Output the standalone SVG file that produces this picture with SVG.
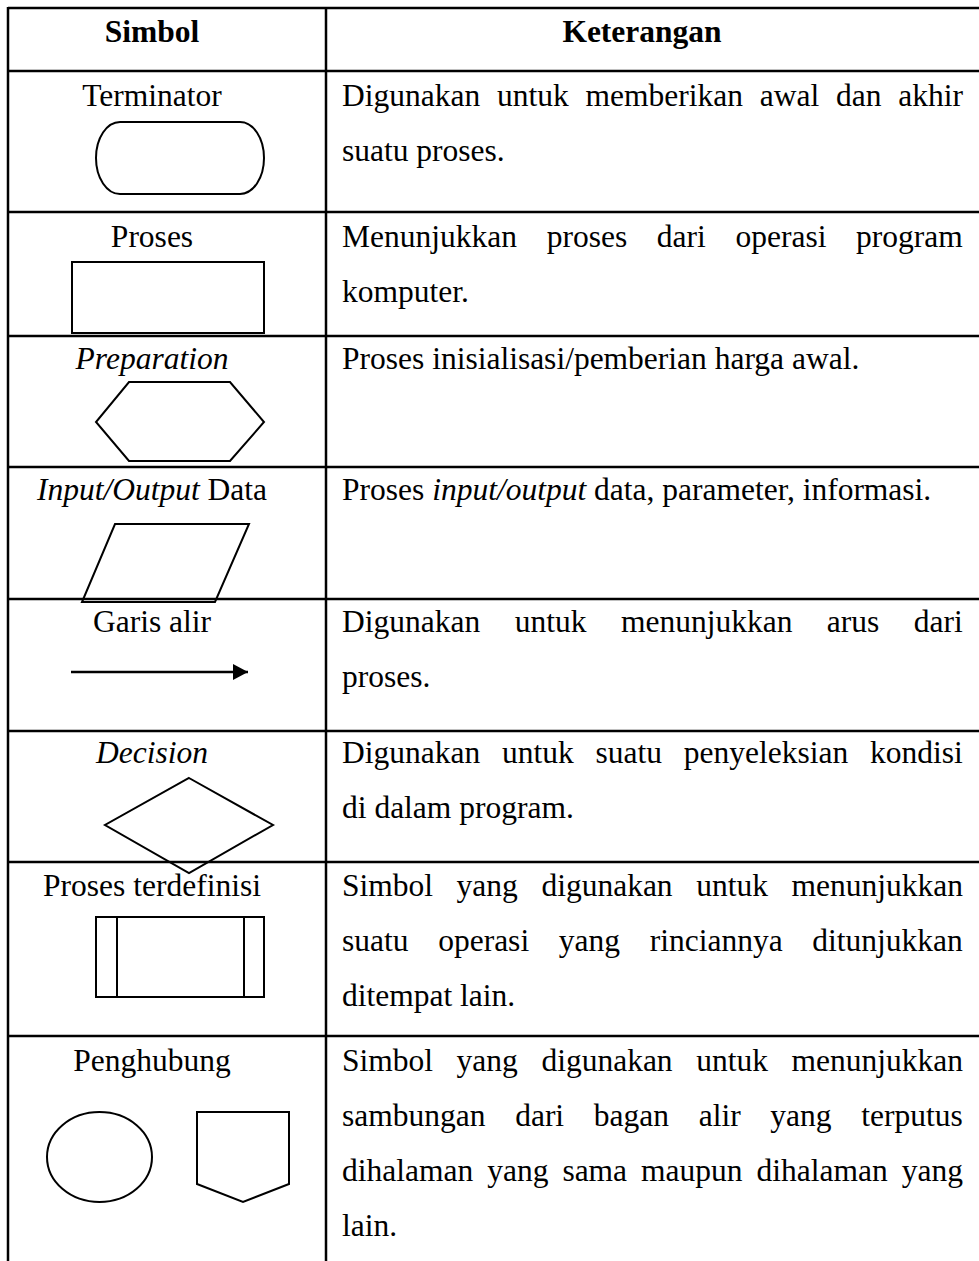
<svg xmlns="http://www.w3.org/2000/svg" width="979" height="1261" viewBox="0 0 979 1261">
  <style>
    text { font-family: "Liberation Serif", "Times New Roman", serif; font-size: 31.5px; fill: #000; }
    .hd { font-weight: bold; text-anchor: middle; }
    .lbl { text-anchor: middle; }
    .it { font-style: italic; }
    .grid { stroke: #000; stroke-width: 2.5; fill: none; }
    .shape { stroke: #000; stroke-width: 2; fill: none; }
  </style>
  <defs>
    <marker id="arrowhead" markerWidth="16" markerHeight="16" refX="15" refY="8" orient="auto" markerUnits="userSpaceOnUse">
      <path d="M0,0 L15,8 L0,16 Z" fill="#000"/>
    </marker>
  </defs>
  <rect width="979" height="1261" fill="#fff"/>

  <!-- table grid -->
  <g id="table-grid" class="grid">
    <line x1="8" y1="8" x2="979" y2="8"/>
    <line x1="8" y1="71" x2="979" y2="71"/>
    <line x1="8" y1="212" x2="979" y2="212"/>
    <line x1="8" y1="336" x2="979" y2="336"/>
    <line x1="8" y1="467" x2="979" y2="467"/>
    <line x1="8" y1="599" x2="979" y2="599"/>
    <line x1="8" y1="731" x2="979" y2="731"/>
    <line x1="8" y1="862" x2="979" y2="862"/>
    <line x1="8" y1="1036" x2="979" y2="1036"/>
    <line x1="8" y1="7" x2="8" y2="1261"/>
    <line x1="326" y1="7" x2="326" y2="1261"/>
  </g>

  <!-- header -->
  <g id="header">
    <text class="hd" x="152" y="42">Simbol</text>
    <text class="hd" x="642" y="42">Keterangan</text>
  </g>

  <!-- symbols column -->
  <g id="terminator">
    <text class="lbl" x="152" y="106">Terminator</text>
    <rect class="shape" x="96" y="122" width="168" height="72" rx="24" ry="36"/>
  </g>
  <g id="proses">
    <text class="lbl" x="152" y="247">Proses</text>
    <rect class="shape" x="72" y="262" width="192" height="71"/>
  </g>
  <g id="preparation">
    <text class="lbl it" x="152" y="369">Preparation</text>
    <polygon class="shape" points="129,382 230,382 264,422 230,461 129,461 96,422"/>
  </g>
  <g id="input-output">
    <text class="lbl" x="152" y="500"><tspan class="it">Input/Output</tspan> Data</text>
    <polygon class="shape" points="115,524 249,524 215,602 82,602"/>
  </g>
  <g id="garis-alir">
    <text class="lbl" x="152" y="632">Garis alir</text>
  </g>
  <g id="decision">
    <text class="lbl it" x="152" y="763">Decision</text>
    <polygon class="shape" points="189,778 273,825 189,873 105,825"/>
  </g>
  <g id="proses-terdefinisi">
    <text class="lbl" x="152" y="896">Proses terdefinisi</text>
    <rect class="shape" x="96" y="917" width="168" height="80"/>
    <line class="shape" x1="117" y1="917" x2="117" y2="997"/>
    <line class="shape" x1="244" y1="917" x2="244" y2="997"/>
  </g>
  <g id="penghubung">
    <text class="lbl" x="152" y="1071">Penghubung</text>
    <ellipse class="shape" cx="99.5" cy="1157" rx="52.5" ry="45"/>
    <polygon class="shape" points="197,1112 289,1112 289,1184 243,1202 197,1184"/>
  </g>

  <!-- flow line sample -->
  <g id="connectors">
    <line x1="71" y1="672" x2="248" y2="672" stroke="#000" stroke-width="2.5" marker-end="url(#arrowhead)"/>
  </g>

  <!-- descriptions -->
  <g id="descriptions">
    <text x="342" y="106" style="word-spacing:8.9px">Digunakan untuk memberikan awal dan akhir</text>
    <text x="342" y="161">suatu proses.</text>

    <text x="342" y="247" style="word-spacing:21.8px">Menunjukkan proses dari operasi program</text>
    <text x="342" y="302">komputer.</text>

    <text x="342" y="369">Proses inisialisasi/pemberian harga awal.</text>

    <text x="342" y="500">Proses <tspan class="it">input/output</tspan> data, parameter, informasi.</text>

    <text x="342" y="632" style="word-spacing:26.6px">Digunakan untuk menunjukkan arus dari</text>
    <text x="342" y="687">proses.</text>

    <text x="342" y="763" style="word-spacing:13.9px">Digunakan untuk suatu penyeleksian kondisi</text>
    <text x="342" y="818">di dalam program.</text>

    <text x="342" y="896" style="word-spacing:15.7px">Simbol yang digunakan untuk menunjukkan</text>
    <text x="342" y="951" style="word-spacing:21.8px">suatu operasi yang rinciannya ditunjukkan</text>
    <text x="342" y="1006">ditempat lain.</text>

    <text x="342" y="1071" style="word-spacing:15.7px">Simbol yang digunakan untuk menunjukkan</text>
    <text x="342" y="1126" style="word-spacing:21.8px">sambungan dari bagan alir yang terputus</text>
    <text x="342" y="1181" style="word-spacing:6.1px">dihalaman yang sama maupun dihalaman yang</text>
    <text x="342" y="1236">lain.</text>
  </g>
</svg>
